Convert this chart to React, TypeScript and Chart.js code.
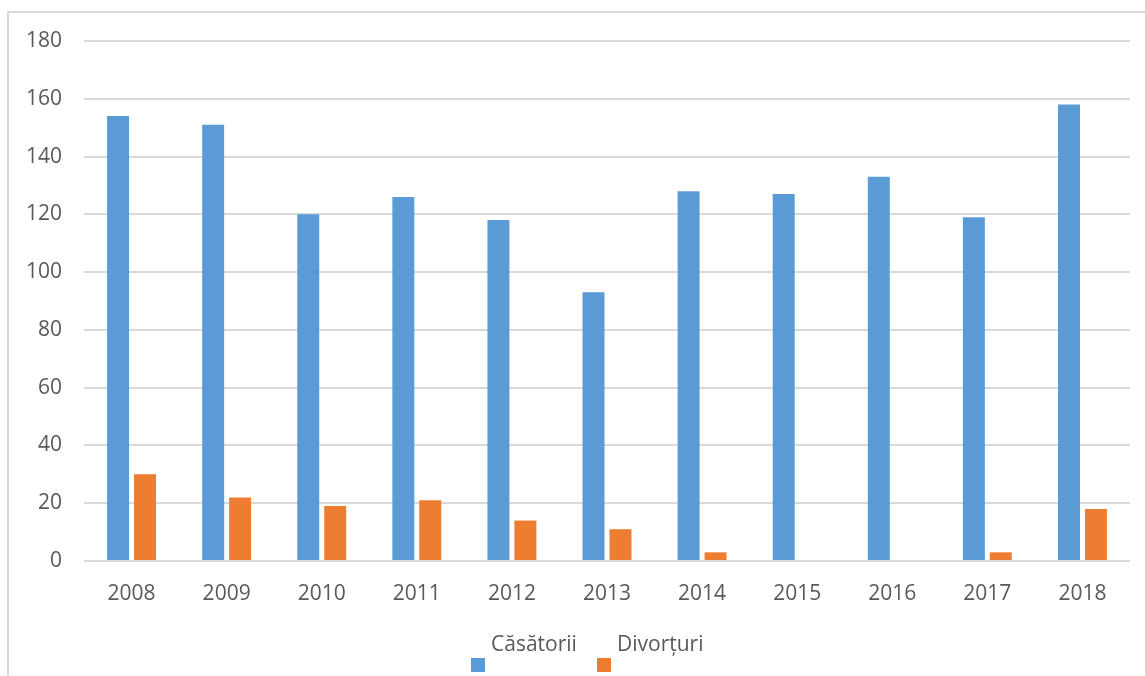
import React, { useEffect, useRef } from "react";
import { Chart, registerables } from "chart.js";

Chart.register(...registerables);

const years = ["2008", "2009", "2010", "2011", "2012", "2013", "2014", "2015", "2016", "2017", "2018"];
const casatorii = [154, 151, 120, 126, 118, 93, 128, 127, 133, 119, 158];
const divorturi = [30, 22, 19, 21, 14, 11, 3, 0, 0, 3, 18];
const seriesNames = ["Căsătorii", "Divorțuri"];
const seriesColors = ["#5B9BD5", "#ED7D31"];

const FONT = "'Open Sans', 'Liberation Sans', sans-serif";

export default function App() {
  const ref = useRef<HTMLCanvasElement | null>(null);

  useEffect(() => {
    if (!ref.current) return;
    const chart = new Chart(ref.current, {
      type: "bar",
      data: {
        labels: years,
        datasets: [
          {
            label: seriesNames[0],
            data: casatorii,
            backgroundColor: seriesColors[0],
            barPercentage: 0.815,
            categoryPercentage: 0.567,
          },
          {
            label: seriesNames[1],
            data: divorturi,
            backgroundColor: seriesColors[1],
            barPercentage: 0.815,
            categoryPercentage: 0.567,
          },
        ],
      },
      options: {
        animation: false,
        responsive: false,
        maintainAspectRatio: false,
        layout: { padding: { left: 0, right: 15, top: 41, bottom: 65 } },
        plugins: { legend: { display: false }, tooltip: { enabled: false } },
        scales: {
          x: {
            grid: { display: false },
            border: { display: false },
            ticks: { color: "#595959", font: { family: FONT, size: 21 }, padding: 12, maxRotation: 0 },
            afterFit: (s: any) => {
              s.height = 50;
            },
          },
          y: {
            min: 0,
            max: 180,
            ticks: { stepSize: 20, color: "#595959", font: { family: FONT, size: 21 }, padding: 22 },
            grid: { color: "#d9d9d9", lineWidth: 2, drawTicks: false },
            border: { display: false },
            afterFit: (s: any) => {
              s.width = 84;
            },
          },
        },
      },
    });
    return () => chart.destroy();
  }, []);

  return (
    <div style={{ position: "fixed", left: 0, top: 0, width: 1145, height: 676, background: "#fff", overflow: "hidden", fontFamily: FONT }}>
      <div
        style={{
          position: "absolute",
          left: 7,
          top: 11,
          width: 1200,
          height: 700,
          borderLeft: "2px solid #d9d9d9",
          borderTop: "2px solid #d9d9d9",
        }}
      />
      <canvas ref={ref} width={1145} height={676} style={{ position: "absolute", left: 0, top: 0, width: 1145, height: 676 }} />
      {seriesNames.map((name, i) => (
        <div key={name}>
          <div
            style={{
              position: "absolute",
              left: i === 0 ? 471 : 597,
              top: 658,
              width: 14,
              height: 14,
              background: seriesColors[i],
            }}
          />
          <div
            style={{
              position: "absolute",
              left: i === 0 ? 491 : 617,
              top: 629,
              fontSize: 21,
              lineHeight: "28px",
              color: "#595959",
              whiteSpace: "nowrap",
            }}
          >
            {name}
          </div>
        </div>
      ))}
    </div>
  );
}
